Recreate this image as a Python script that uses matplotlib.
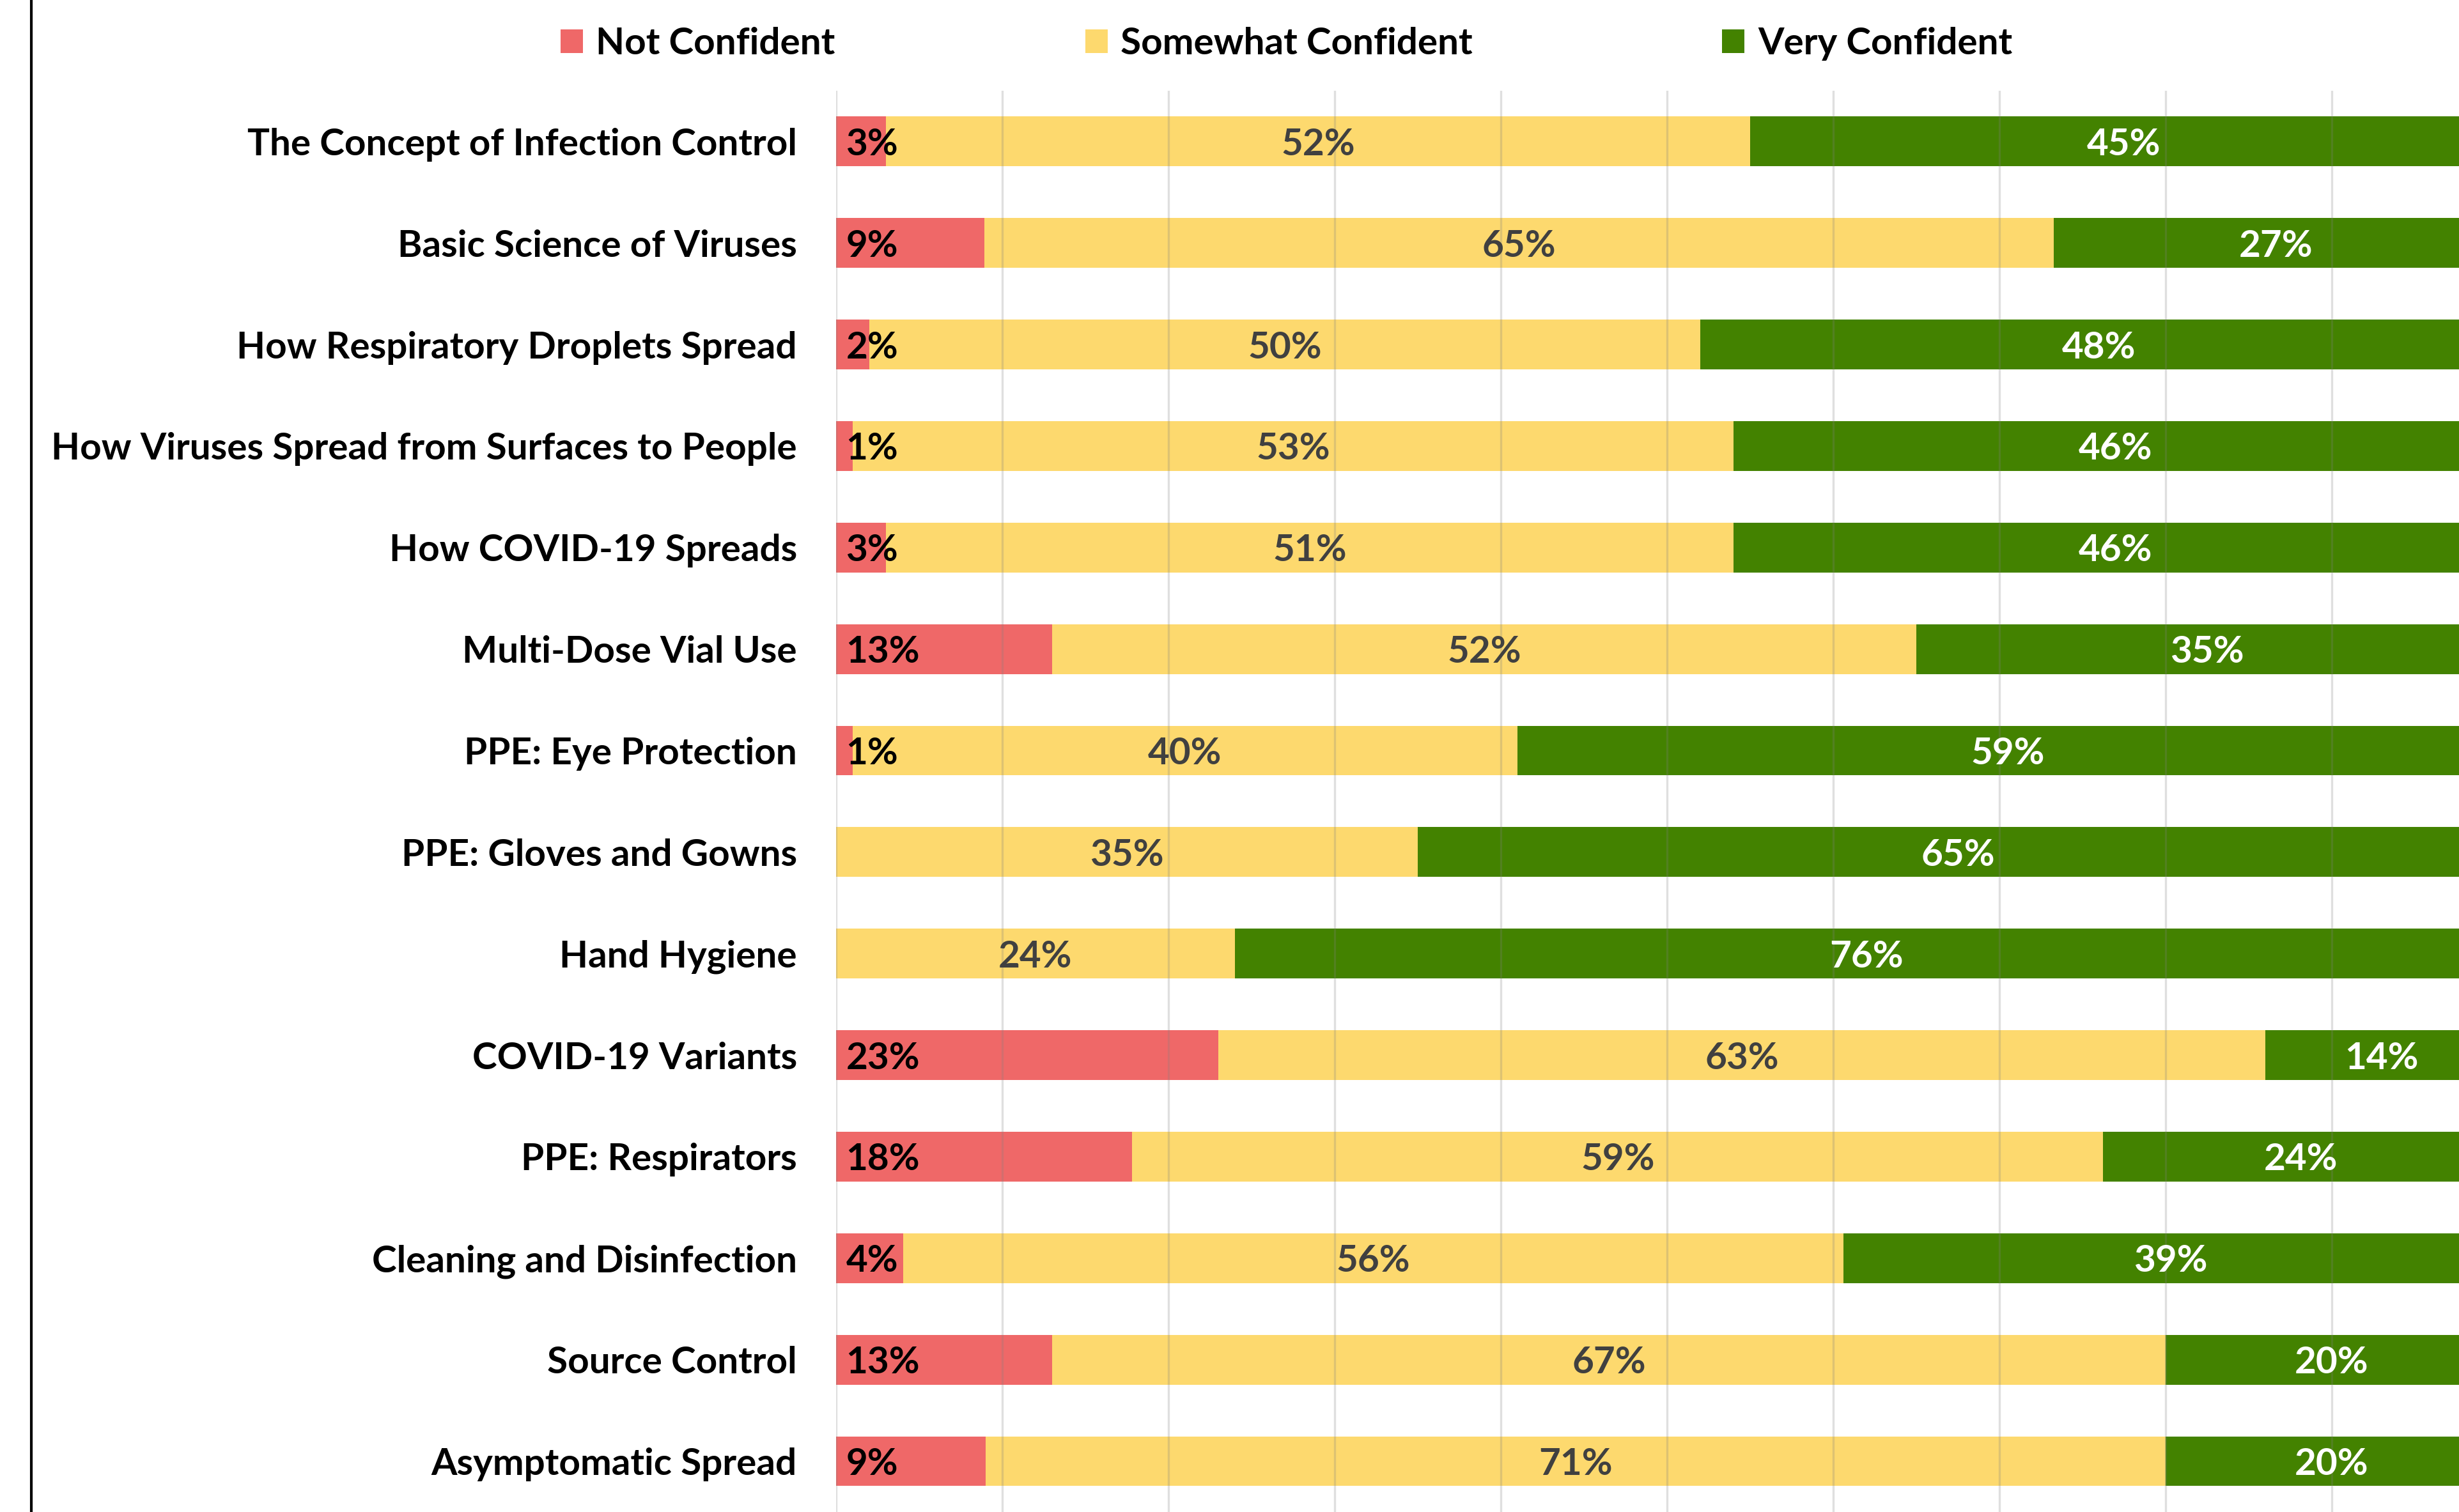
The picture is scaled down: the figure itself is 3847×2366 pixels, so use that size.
import numpy as np
import matplotlib.pyplot as plt
from matplotlib.patches import Patch
from matplotlib.lines import Line2D

# survey topics, top to bottom
topics = [
    "The Concept of Infection Control",
    "Basic Science of Viruses",
    "How Respiratory Droplets Spread",
    "How Viruses Spread from Surfaces to People",
    "How COVID-19 Spreads",
    "Multi-Dose Vial Use",
    "PPE: Eye Protection",
    "PPE: Gloves and Gowns",
    "Hand Hygiene",
    "COVID-19 Variants",
    "PPE: Respirators",
    "Cleaning and Disinfection",
    "Source Control",
    "Asymptomatic Spread",
]
not_confident = [3, 9, 2, 1, 3, 13, 1, 0, 0, 23, 18, 4, 13, 9]
somewhat_confident = [52, 65, 50, 53, 51, 52, 40, 35, 24, 63, 59, 56, 67, 71]
very_confident = [45, 27, 48, 46, 46, 35, 59, 65, 76, 14, 24, 39, 20, 20]
series_names = ["Not Confident", "Somewhat Confident", "Very Confident"]

colors = ["#EF6868", "#FDD96E", "#438200"]
label_colors = ["#000000", "#404040", "#FFFFFF"]
FONT = "Lato"
FS = 21

plt.rcParams['font.family'] = [FONT, 'DejaVu Sans']
plt.rcParams['font.weight'] = 'bold'

fig = plt.figure(figsize=(19.24, 11.83), dpi=200)
# axes runs past the right edge, the original picture is cropped there
ax = fig.add_axes([0.3399, 0.0, 0.6757, 0.94])

raw = np.array([not_confident, somewhat_confident, very_confident], dtype=float)
share = raw / raw.sum(axis=0)  # 100% stacked
y = np.arange(len(topics))
left = np.zeros(len(topics))

for k in range(3):
    ax.barh(y, share[k], left=left, height=0.49, color=colors[k], zorder=2)
    for i in range(len(topics)):
        if raw[k, i] == 0:
            continue
        txt = f"{int(raw[k, i])}%"
        if k == 0:
            ax.text(left[i] + 0.006, y[i], txt, ha='left', va='center_baseline',
                    color=label_colors[k], fontsize=FS, fontweight='bold', zorder=4)
        else:
            ax.text(left[i] + share[k, i] / 2, y[i], txt, ha='center',
                    va='center_baseline', color=label_colors[k], fontsize=FS,
                    fontweight='bold', zorder=4)
    left += share[k]

ax.set_xlim(0, 1)
ax.set_ylim(len(topics) - 0.5, -0.5)
ax.set_xticks(np.arange(0, 1.01, 0.1))
ax.xaxis.grid(True, color='#808080', alpha=0.25, linewidth=1.2, zorder=3)
ax.set_axisbelow(False)
ax.tick_params(axis='x', length=0, labelbottom=False)
ax.tick_params(axis='y', length=0, pad=22, labelsize=FS)
ax.set_yticks(y)
ax.set_yticklabels(topics, fontweight='bold', color='black')
for s in ax.spines.values():
    s.set_visible(False)

handles = [Patch(facecolor=c, edgecolor='none') for c in colors]
fig.legend(handles, series_names, ncol=3, loc='center', bbox_to_anchor=(0.523, 0.971),
           frameon=False, fontsize=FS, handlelength=0.6, handleheight=0.6,
           handletextpad=0.35, columnspacing=6.7)

fig.add_artist(Line2D([49 / 3848, 49 / 3848], [0, 1], color='black', linewidth=1.5,
                      transform=fig.transFigure))

fig.savefig("out.png", dpi=200)
